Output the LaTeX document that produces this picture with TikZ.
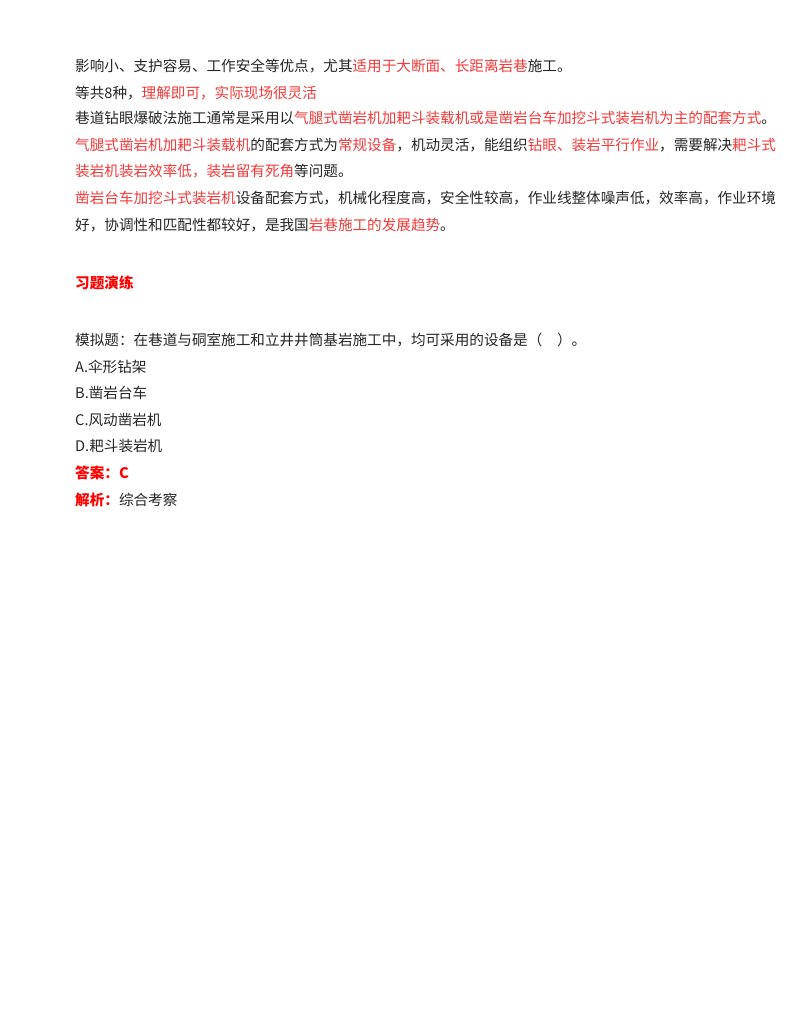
\documentclass[tikz,border=0pt]{standalone}
\usepackage{fontspec}
\newfontfamily\cjk{Noto Sans CJK SC}
\definecolor{hl}{HTML}{F23A3A}
\newcommand{\R}[1]{\textcolor{hl}{#1}}
\begin{document}
\begin{tikzpicture}[x=1pt,y=-1pt,
  ln/.style={anchor=west,inner sep=0pt,font=\cjk\fontsize{14.6}{16}\selectfont,text=black!85}]
\useasboundingbox[fill=white] (0,0) rectangle (800,1035);
\node[ln] (l1) at (75,66) {影响小、支护容易、工作安全等优点，尤其\R{适用于大断面、长距离岩巷}施工。};
\node[ln] (l2) at (75,93) {等共8种，\R{理解即可，实际现场很灵活}};
\node[ln] (l3) at (75,118) {巷道钻眼爆破法施工通常是采用以\R{气腿式凿岩机加耙斗装载机或是凿岩台车加挖斗式装岩机为主的配套方式}。};
\node[ln] (l4) at (75,145) {\R{气腿式凿岩机加耙斗装载机}的配套方式为\R{常规设备}，机动灵活，能组织\R{钻眼、装岩平行作业}，需要解决\R{耙斗式}};
\node[ln] (l5) at (75,171) {\R{装岩机装岩效率低，装岩留有死角}等问题。};
\node[ln] (l6) at (75,198) {\R{凿岩台车加挖斗式装岩机}设备配套方式，机械化程度高，安全性较高，作业线整体噪声低，效率高，作业环境};
\node[ln] (l7) at (75,225) {好，协调性和匹配性都较好，是我国\R{岩巷施工的发展趋势}。};
\node[ln,font=\cjk\bfseries\fontsize{14.6}{16}\selectfont,text=red] (h) at (75,283) {习题演练};
\node[ln] (q) at (75,340) {模拟题：在巷道与硐室施工和立井井筒基岩施工中，均可采用的设备是（　）。};
\node[ln] (a) at (75,367) {A.伞形钻架};
\node[ln] (b) at (75,393) {B.凿岩台车};
\node[ln] (c) at (75,420) {C.风动凿岩机};
\node[ln] (d) at (75,446) {D.耙斗装岩机};
\node[ln,font=\cjk\bfseries\fontsize{14.6}{16}\selectfont,text=red] (ans) at (75,473) {答案：C};
\node[ln] (ex) at (75,500) {\textcolor{red}{\bfseries 解析：}综合考察};
\end{tikzpicture}
\end{document}
